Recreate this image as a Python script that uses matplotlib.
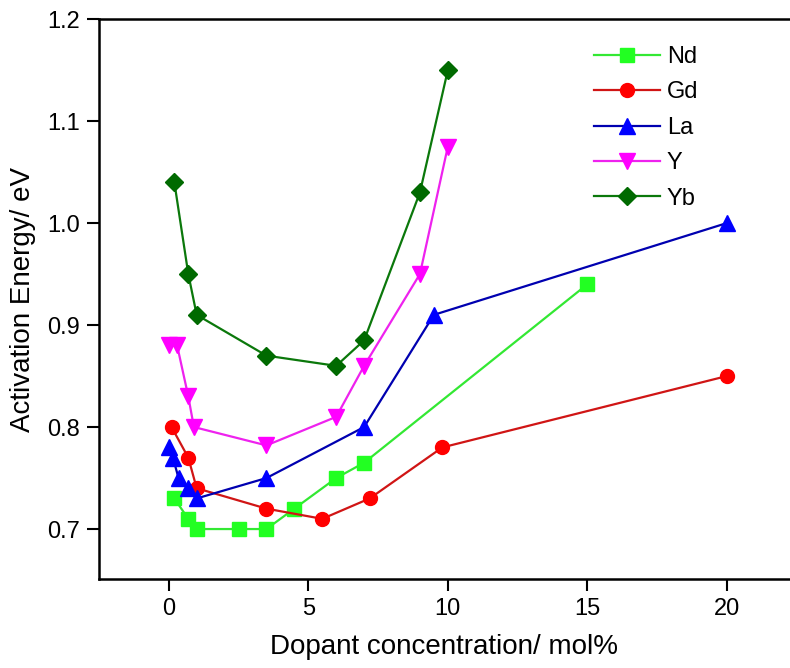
import matplotlib.pyplot as plt

plt.rcParams['font.family'] = ['Liberation Sans', 'DejaVu Sans']

# dopant concentration (mol%) and activation energy (eV) for each dopant
nd_x = [0.2, 0.7, 1.0, 2.5, 3.5, 4.5, 6.0, 7.0, 15.0]
nd_y = [0.73, 0.71, 0.70, 0.70, 0.70, 0.72, 0.75, 0.765, 0.94]
gd_x = [0.1, 0.7, 1.0, 3.5, 5.5, 7.2, 9.8, 20.0]
gd_y = [0.80, 0.77, 0.74, 0.72, 0.71, 0.73, 0.78, 0.85]
la_x = [0.0, 0.15, 0.35, 0.7, 1.0, 3.5, 7.0, 9.5, 20.0]
la_y = [0.78, 0.77, 0.75, 0.74, 0.73, 0.75, 0.80, 0.91, 1.00]
y_x = [0.0, 0.3, 0.7, 0.9, 3.5, 6.0, 7.0, 9.0, 10.0]
y_y = [0.88, 0.88, 0.83, 0.80, 0.782, 0.81, 0.86, 0.95, 1.075]
yb_x = [0.2, 0.7, 1.0, 3.5, 6.0, 7.0, 9.0, 10.0]
yb_y = [1.04, 0.95, 0.91, 0.87, 0.86, 0.885, 1.03, 1.15]

fig = plt.figure(figsize=(7.9, 6.68), dpi=100)
ax = fig.add_axes([0.1253, 0.1332, 0.8747, 0.8383])

ax.plot(nd_x, nd_y, '-s', color='#33e833', mfc='#22ff22', mec='#22ff22', ms=9.5, lw=1.6, label='Nd')
ax.plot(gd_x, gd_y, '-o', color='#d01515', mfc='#ff0000', mec='#ff0000', ms=10, lw=1.6, label='Gd')
ax.plot(la_x, la_y, '-^', color='#0000b0', mfc='#0000ff', mec='#0000ff', ms=11, lw=1.6, label='La')
ax.plot(y_x, y_y, '-v', color='#ee22ee', mfc='#ff00ff', mec='#ff00ff', ms=11, lw=1.6, label='Y')
ax.plot(yb_x, yb_y, '-D', color='#0b780b', mfc='#006a00', mec='#006a00', ms=9, lw=1.6, label='Yb')

ax.set_xlim(-2.5, 22.26)
ax.set_ylim(0.651, 1.2)
ax.set_xticks([0, 5, 10, 15, 20])
ax.set_yticks([0.7, 0.8, 0.9, 1.0, 1.1, 1.2])
ax.set_yticklabels(['0.7', '0.8', '0.9', '1.0', '1.1', '1.2'])

ax.spines['right'].set_visible(False)
for s in ['left', 'bottom', 'top']:
    ax.spines[s].set_linewidth(1.8)
ax.tick_params(direction='out', length=8.5, width=1.5, labelsize=17, pad=5)

ax.set_xlabel('Dopant concentration/ mol%', fontsize=20, labelpad=10)
ax.set_ylabel('Activation Energy/ eV', fontsize=20, labelpad=8)

ax.legend(loc='upper left', bbox_to_anchor=(0.685, 0.99), frameon=False,
          fontsize=17, handlelength=2.8, labelspacing=0.57, handletextpad=0.3)

plt.savefig('out.png', dpi=100)
